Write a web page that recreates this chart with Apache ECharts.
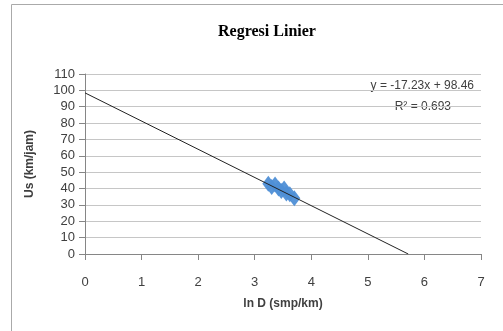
<!DOCTYPE html>
<html>
<head>
<meta charset="utf-8">
<script src="https://cdn.jsdelivr.net/npm/echarts@6/dist/echarts.min.js"></script>
<style>
  html, body { margin: 0; padding: 0; background: #fff; }
  #chart { width: 503px; height: 331px; }
</style>
</head>
<body>
<div id="chart"></div>
<script>
// Regresi Linier: ln D vs Us, observed points + fitted trend line
const lnD   = [3.24, 3.30, 3.36, 3.42, 3.47, 3.52, 3.56, 3.62, 3.70];
const usKmj = [43.0, 41.0, 42.5, 40.0, 38.5, 40.0, 37.0, 36.5, 34.0];
const trendX = [0, 5.714];
const trendY = [98.46, 0];
const EQ_TEXT = "y = -17.23x + 98.46";
const R2_TEXT = "R² = 0.693";

const FONT = "'Liberation Sans', sans-serif";
const axisClr = "#868686";
const gridClr = "#c6c6c6";
const labelClr = "#404040";

const chart = echarts.init(document.getElementById("chart"));
chart.setOption({
  backgroundColor: "#fff", animation: false,
  title: {
    text: "Regresi Linier", left: 262, top: 19, textAlign: "center",
    textStyle: { fontFamily: "'Liberation Serif', serif", fontWeight: "bold", fontSize: 16, color: "#000" },
  },
  grid: { left: 85, right: 22, top: 74, bottom: 77 },
  xAxis: {
    type: "value", min: 0, max: 7, interval: 1,
    name: "ln D (smp/km)", nameLocation: "middle", nameGap: 44,
    nameTextStyle: { fontFamily: FONT, fontWeight: "bold", fontSize: 12, color: labelClr },
    axisLine: { show: true, onZero: false, lineStyle: { color: axisClr } },
    axisTick: { show: true, length: 6, lineStyle: { color: axisClr } },
    axisLabel: { fontFamily: FONT, fontSize: 13, color: labelClr, margin: 22 },
    splitLine: { show: false },
  },
  yAxis: {
    type: "value", min: 0, max: 110, interval: 10,
    name: "Us (km/jam)", nameLocation: "middle", nameGap: 49, nameRotate: 90,
    nameTextStyle: { fontFamily: FONT, fontWeight: "bold", fontSize: 12, color: labelClr },
    axisLine: { show: true, lineStyle: { color: axisClr } },
    axisTick: { show: true, length: 6, lineStyle: { color: axisClr } },
    axisLabel: { fontFamily: FONT, fontSize: 13, color: labelClr, margin: 10 },
    splitLine: { lineStyle: { color: gridClr, width: 1 } },
  },
  series: [
    { type: "scatter", data: lnD.map((x, i) => [x, usKmj[i]]),
      symbol: "diamond", symbolSize: [12, 16], z: 2,
      itemStyle: { color: "#4f8fd6", opacity: 0.95 } },
    { type: "line", data: trendX.map((x, i) => [x, trendY[i]]),
      symbol: "none", z: 3, lineStyle: { color: "#222", width: 1 } },
  ],
  graphic: [
    { type: "rect", shape: { x: 11.5, y: 4.5, width: 600, height: 600 },
      style: { fill: "none", stroke: "#aaa", lineWidth: 1 }, silent: true },
    { type: "text", right: 29, top: 80,
      style: { text: EQ_TEXT, fontFamily: FONT, fontSize: 12, fill: labelClr } },
    { type: "text", right: 52, top: 101,
      style: { text: R2_TEXT, fontFamily: FONT, fontSize: 12, fill: labelClr } },
  ],
});
</script>
</body>
</html>
